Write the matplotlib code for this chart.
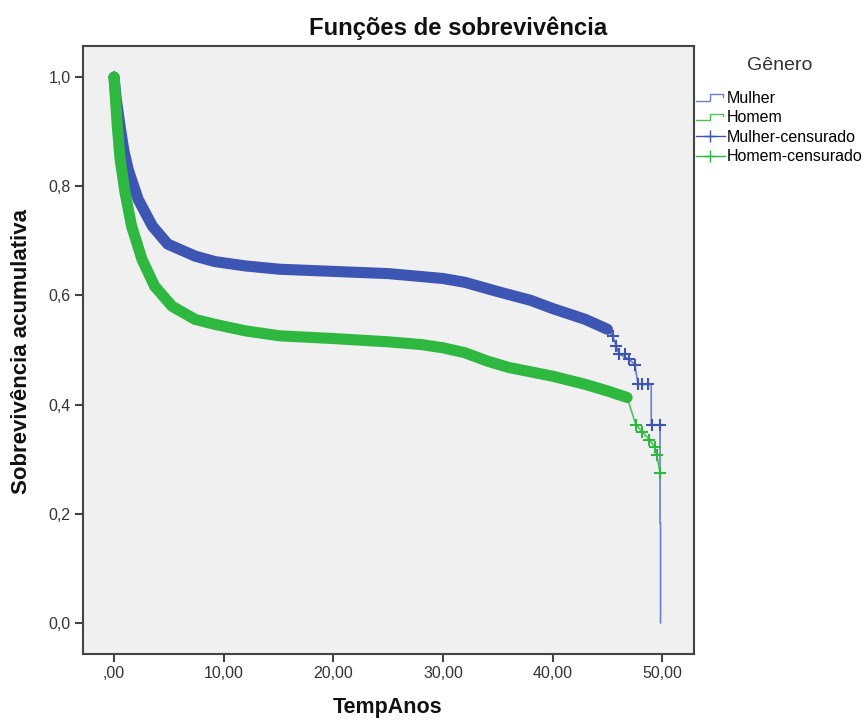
import numpy as np
import matplotlib
matplotlib.use("Agg")
import matplotlib.pyplot as plt
from matplotlib.lines import Line2D
from matplotlib.legend_handler import HandlerBase
from matplotlib.ticker import FixedLocator, FuncFormatter

plt.rcParams['font.family'] = ['Liberation Sans', 'DejaVu Sans']

# curvas de sobrevivencia (tempo em anos, S(t))
t_mulher = [0, 0.2, 0.55, 0.9, 1.3, 2.2, 3.5, 4.9, 7.4, 9.2, 12, 15.1, 20, 25, 30,
            32, 35, 38, 40, 43, 45, 45.5, 45.8, 46.1, 47.0, 47.5, 47.8, 49.0, 49.0,
            49.8, 49.8, 49.85, 49.85]
s_mulher = [1.0, 0.96, 0.91, 0.865, 0.83, 0.776, 0.727, 0.694, 0.672, 0.662, 0.654,
            0.648, 0.644, 0.640, 0.631, 0.624, 0.607, 0.591, 0.576, 0.556, 0.538,
            0.525, 0.507, 0.492, 0.483, 0.473, 0.437, 0.437, 0.363, 0.363, 0.183,
            0.183, 0.0]

t_homem = [0, 0.1, 0.3, 0.55, 1.0, 1.6, 2.55, 3.7, 5.3, 7.4, 9.2, 12, 15.1, 20, 25,
           28, 30, 32, 34, 36, 40, 43, 45, 46.8, 47.6, 48.2, 48.8, 49.3, 49.5, 49.8]
s_homem = [1.0, 0.97, 0.91, 0.85, 0.789, 0.727, 0.666, 0.617, 0.58, 0.556, 0.547,
           0.535, 0.526, 0.521, 0.515, 0.510, 0.504, 0.495, 0.480, 0.468, 0.452,
           0.437, 0.425, 0.413, 0.363, 0.350, 0.336, 0.323, 0.308, 0.275]

# casos censurados esparsos no fim da curva
tc_mulher = [45.5, 45.8, 46.1, 46.6, 47.0, 47.5, 47.8, 48.2, 48.7, 49.1, 49.8]
sc_mulher = [0.525, 0.507, 0.492, 0.492, 0.483, 0.473, 0.437, 0.437, 0.437, 0.363, 0.363]
tc_homem = [0.0, 47.6, 48.2, 48.8, 49.3, 49.5, 49.8]
sc_homem = [1.0, 0.363, 0.350, 0.336, 0.323, 0.308, 0.275]

# trecho em que os censurados sao tao densos que formam uma faixa
fim_faixa_mulher = 45.0
fim_faixa_homem = 47.0

x_ticks = [0, 10, 20, 30, 40, 50]
y_ticks = [0.0, 0.2, 0.4, 0.6, 0.8, 1.0]

azul = "#3d56b4"
azul_linha = "#6a7fd0"
verde = "#2eb83f"
verde_linha = "#4cc45a"
cinza = "#444444"


class HandlerStep(HandlerBase):
    def create_artists(self, legend, orig_handle, xdescent, ydescent, width,
                       height, fontsize, trans):
        xs = np.array([0, 0.5, 0.5, 0.95, 0.95]) * width - xdescent
        ys = np.array([0.2, 0.2, 0.8, 0.8, 0.55]) * height - ydescent
        ln = Line2D(xs, ys, color=orig_handle.get_color(), lw=1)
        ln.set_transform(trans)
        return [ln]


fig = plt.figure(figsize=(8.66, 7.22), dpi=100, facecolor="white")
ax = fig.add_axes([83 / 866, 1 - 654 / 722, (694 - 83) / 866, (654 - 46) / 722])
ax.set_facecolor("#f0f0f0")

for t, s, fim, cor, cor_l in [(t_mulher, s_mulher, fim_faixa_mulher, azul, azul_linha),
                              (t_homem, s_homem, fim_faixa_homem, verde, verde_linha)]:
    t = np.array(t)
    s = np.array(s)
    ax.plot(t, s, color=cor_l, lw=1.2, zorder=2)
    m = t <= fim
    ax.plot(t[m], s[m], color=cor, lw=8, solid_capstyle="round",
            solid_joinstyle="round", zorder=3)

ax.plot(tc_mulher, sc_mulher, "+", color=azul, ms=8, mew=1.5, ls="none", zorder=4)
ax.plot(tc_homem, sc_homem, "+", color=verde, ms=8, mew=1.5, ls="none", zorder=4)

ax.set_xlim(-2.83, 52.9)
ax.set_ylim(-0.057, 1.057)
ax.xaxis.set_major_locator(FixedLocator(x_ticks))
ax.yaxis.set_major_locator(FixedLocator(y_ticks))
ax.xaxis.set_major_formatter(FuncFormatter(
    lambda v, p: (",00" if v == 0 else f"{v:.2f}".replace(".", ","))))
ax.yaxis.set_major_formatter(FuncFormatter(lambda v, p: f"{v:.1f}".replace(".", ",")))
ax.tick_params(direction="out", length=6, width=1.5, color=cinza,
               labelsize=11.5, labelcolor="#333333", pad=3)
for sp in ax.spines.values():
    sp.set_color(cinza)
    sp.set_linewidth(1.5)

fig.text(458 / 866, 1 - 28 / 722, "Funções de sobrevivência", ha="center",
         va="center", fontsize=17.2, fontweight="bold", color="#111111")
fig.text(388 / 866, 1 - 708 / 722, "TempAnos", ha="center", va="center",
         fontsize=15.5, fontweight="bold", color="#111111")
fig.text(22 / 866, 1 - 352 / 722, "Sobrevivência acumulativa", ha="center",
         va="center", rotation=90, fontsize=16, fontweight="bold", color="#111111")
fig.text(780 / 866, 1 - 66 / 722, "Gênero", ha="center", va="center",
         fontsize=14, color="#333333")

handles = [Line2D([], [], color=azul_linha), Line2D([], [], color=verde_linha),
           Line2D([], [], color=azul, marker="+", ms=9, lw=1),
           Line2D([], [], color=verde, marker="+", ms=9, lw=1)]
labels = ["Mulher", "Homem", "Mulher-censurado", "Homem-censurado"]
leg = fig.legend(handles, labels, loc="upper left",
                 bbox_to_anchor=(696 / 866, 1 - 91 / 722), frameon=False,
                 fontsize=11.5, handlelength=1.8, handletextpad=0.1,
                 labelspacing=0.28, borderpad=0, borderaxespad=0,
                 handler_map={handles[0]: HandlerStep(), handles[1]: HandlerStep()})

fig.savefig("out.png", dpi=100, facecolor="white")
